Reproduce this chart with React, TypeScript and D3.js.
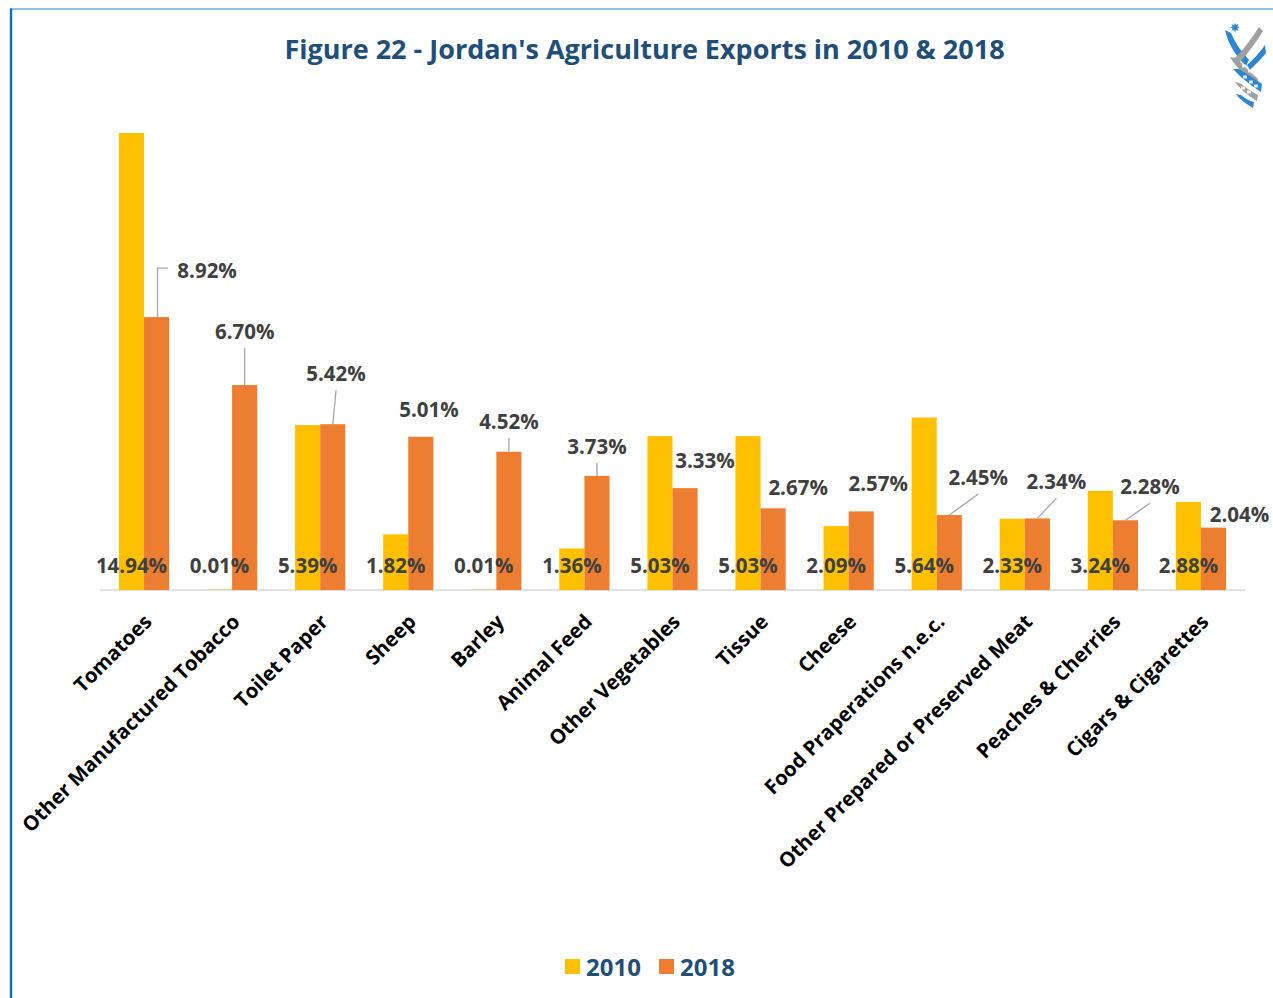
import React from 'react';
import * as d3 from 'd3';

const categories = [
  'Tomatoes',
  'Other Manufactured Tobacco',
  'Toilet Paper',
  'Sheep',
  'Barley',
  'Animal Feed',
  'Other Vegetables',
  'Tissue',
  'Cheese',
  'Food Praperations n.e.c.',
  'Other Prepared or Preserved Meat',
  'Peaches & Cherries',
  'Cigars & Cigarettes',
];
const values2010 = [14.94, 0.01, 5.39, 1.82, 0.01, 1.36, 5.03, 5.03, 2.09, 5.64, 2.33, 3.24, 2.88];
const values2018 = [8.92, 6.7, 5.42, 5.01, 4.52, 3.73, 3.33, 2.67, 2.57, 2.45, 2.34, 2.28, 2.04];
const seriesNames = ['2010', '2018'];
const title = "Figure 22 - Jordan's Agriculture Exports in 2010 & 2018";

// manual data-label placement for the 2018 series (pixel offsets from bar top-centre)
const label2018Layout: { dx: number; dy: number; leader: 'none' | 'line' | 'elbow' }[] = [
  { dx: 50.5, dy: -47, leader: 'elbow' },
  { dx: 0, dy: -54, leader: 'line' },
  { dx: 3.3, dy: -51, leader: 'line' },
  { dx: 8.2, dy: -28, leader: 'none' },
  { dx: 0, dy: -31, leader: 'line' },
  { dx: 0, dy: -30, leader: 'line' },
  { dx: 20, dy: -28, leader: 'none' },
  { dx: 25, dy: -21, leader: 'none' },
  { dx: 17, dy: -28, leader: 'none' },
  { dx: 29, dy: -38, leader: 'line' },
  { dx: 19, dy: -37, leader: 'line' },
  { dx: 24.5, dy: -34, leader: 'line' },
  { dx: 26, dy: -14, leader: 'none' },
];

const W = 1273;
const H = 998;
const COLORS = ['#FFC000', '#ED7D31'];
const FONT = "'Open Sans', 'Noto Sans', sans-serif";
const TITLE_COLOR = '#1F4E79';
const LABEL_COLOR = '#404040';

const x0 = 100;
const x1 = 1245;
const baseY = 590;

export default function App() {
  const x = d3
    .scaleBand<string>()
    .domain(categories)
    .range([x0, x1])
    .paddingInner(0.43)
    .paddingOuter(0.215);
  const xs = d3.scaleBand<string>().domain(seriesNames).range([0, x.bandwidth()]);
  const y = d3.scaleLinear().domain([0, 16]).range([baseY, baseY - 16 * 30.59]);

  const series = [values2010, values2018];
  const blue = '#2E86D1';
  const gray = '#A0A0A0';

  return (
    <svg
      width={W}
      height={H}
      style={{ position: 'absolute', left: 0, top: 0, background: '#fff' }}
      fontFamily={FONT}
    >
      <rect x={0} y={0} width={W} height={H} fill="#fff" />
      {/* frame */}
      <line x1={10} y1={9} x2={W} y2={9} stroke="#2F80C8" strokeWidth={1.2} />
      <line x1={11} y1={8.5} x2={11} y2={H} stroke="#0070C0" strokeWidth={2.4} />

      {/* logo */}
      <g>
        <polygon
          points={d3
            .range(16)
            .map((i) => {
              const r = i % 2 === 0 ? 5 : 2.5;
              const a = (Math.PI * i) / 8 - Math.PI / 2;
              return `${1235 + r * Math.cos(a)},${27.5 + r * Math.sin(a)}`;
            })
            .join(' ')}
          fill={blue}
        />
        {/* left blue swoosh */}
        <path d="M1225,30 L1231,33 C1236,45 1243,53 1249,60 L1246,66 C1238,58 1229,47 1225,30 Z" fill={blue} />
        {/* top-right gray band */}
        <path d="M1259,27 L1263,31 C1256,43 1247,54 1239,63 L1235,58 C1244,49 1252,38 1259,27 Z" fill={gray} />
        {/* right blue small band */}
        <path d="M1265,45 L1266,53 C1261,59 1255,65 1250,70 L1247,65 C1254,59 1260,52 1265,45 Z" fill={blue} />
        {/* middle gray band going down-right */}
        <path d="M1230,57 L1236,58 C1244,66 1251,73 1258,79 L1257,86 C1248,79 1238,70 1230,57 Z" fill={gray} />
        {/* blue band with windows */}
        <path d="M1233,69 L1239,69 C1247,74 1255,79 1262,84 L1261,92 C1252,86 1242,79 1233,69 Z" fill={blue} />
        {/* lower gray */}
        <path d="M1235,82 L1240,83 C1246,88 1252,92 1258,95 L1257,101 C1250,97 1242,91 1235,82 Z" fill={gray} />
        {/* bottom blue tip */}
        <path d="M1236,94 L1241,95 C1246,99 1250,101 1254,102 L1253,108 C1247,104 1240,100 1236,94 Z" fill={blue} />
        {[
          [1244, 66],
          [1250, 71],
          [1245, 77],
          [1251, 82],
          [1256, 86],
          [1243, 88],
          [1249, 92],
        ].map(([cx, cy], i) => (
          <rect key={i} x={cx - 2} y={cy - 1.5} width={4} height={3} fill="#fff" opacity={0.85} />
        ))}
      </g>

      {/* title */}
      <text
        x={644.5}
        y={48}
        textAnchor="middle"
        dominantBaseline="central"
        fontSize={27}
        fontWeight={700}
        fill={TITLE_COLOR}
      >
        {title}
      </text>

      {/* axis line */}
      <line x1={x0} y1={baseY} x2={x1} y2={baseY} stroke="#D9D9D9" strokeWidth={1.5} />

      {/* bars */}
      {series.map((vals, si) =>
        categories.map((c, i) => (
          <rect
            key={`${si}-${i}`}
            x={(x(c) as number) + (xs(seriesNames[si]) as number)}
            y={y(vals[i])}
            width={xs.bandwidth()}
            height={baseY - y(vals[i])}
            fill={COLORS[si]}
          />
        ))
      )}

      {/* leader lines for 2018 labels */}
      {categories.map((c, i) => {
        const L = label2018Layout[i];
        const bx = (x(c) as number) + (xs('2018') as number) + xs.bandwidth() / 2;
        const by = y(values2018[i]);
        const lx = bx + L.dx;
        const ly = by + L.dy;
        if (L.leader === 'line') {
          return <line key={i} x1={bx} y1={by} x2={lx} y2={ly + 17} stroke="#A6A6A6" strokeWidth={1.3} />;
        }
        if (L.leader === 'elbow') {
          const bxl = Math.round(bx) + 0.5;
          return (
            <polyline
              key={i}
              points={`${bxl},${by} ${bxl},${ly - 2} ${lx - 39},${ly - 2}`}
              fill="none"
              stroke="#A6A6A6"
              strokeWidth={1.3}
            />
          );
        }
        return null;
      })}

      {/* 2018 labels */}
      {categories.map((c, i) => {
        const L = label2018Layout[i];
        const bx = (x(c) as number) + (xs('2018') as number) + xs.bandwidth() / 2;
        const by = y(values2018[i]);
        return (
          <text
            key={i}
            x={bx + L.dx}
            y={by + L.dy}
            textAnchor="middle"
            dominantBaseline="central"
            fontSize={20.5}
            fontWeight={700}
            fill={LABEL_COLOR}
          >
            {values2018[i].toFixed(2)}%
          </text>
        );
      })}

      {/* 2010 labels (inside base) */}
      {categories.map((c, i) => {
        const bx = (x(c) as number) + (xs('2010') as number) + xs.bandwidth() / 2;
        return (
          <text
            key={i}
            x={bx}
            y={565}
            textAnchor="middle"
            dominantBaseline="central"
            fontSize={20.5}
            fontWeight={700}
            fill={LABEL_COLOR}
          >
            {values2010[i].toFixed(2)}%
          </text>
        );
      })}

      {/* category labels */}
      {categories.map((c) => {
        const cx = (x(c) as number) + x.bandwidth() / 2;
        return (
          <text
            key={c}
            transform={`translate(${cx + 9},${623}) rotate(-45)`}
            textAnchor="end"
            fontSize={20.3}
            fontWeight={700}
            fill="#000"
          >
            {c}
          </text>
        );
      })}

      {/* legend */}
      {seriesNames.map((s, i) => {
        const lx = [565, 659][i];
        return (
          <g key={s}>
            <rect x={lx} y={959} width={15} height={15} fill={COLORS[i]} />
            <text
              x={lx + 21}
              y={966.5}
              dominantBaseline="central"
              fontSize={24}
              fontWeight={700}
              fill={TITLE_COLOR}
            >
              {s}
            </text>
          </g>
        );
      })}
    </svg>
  );
}
